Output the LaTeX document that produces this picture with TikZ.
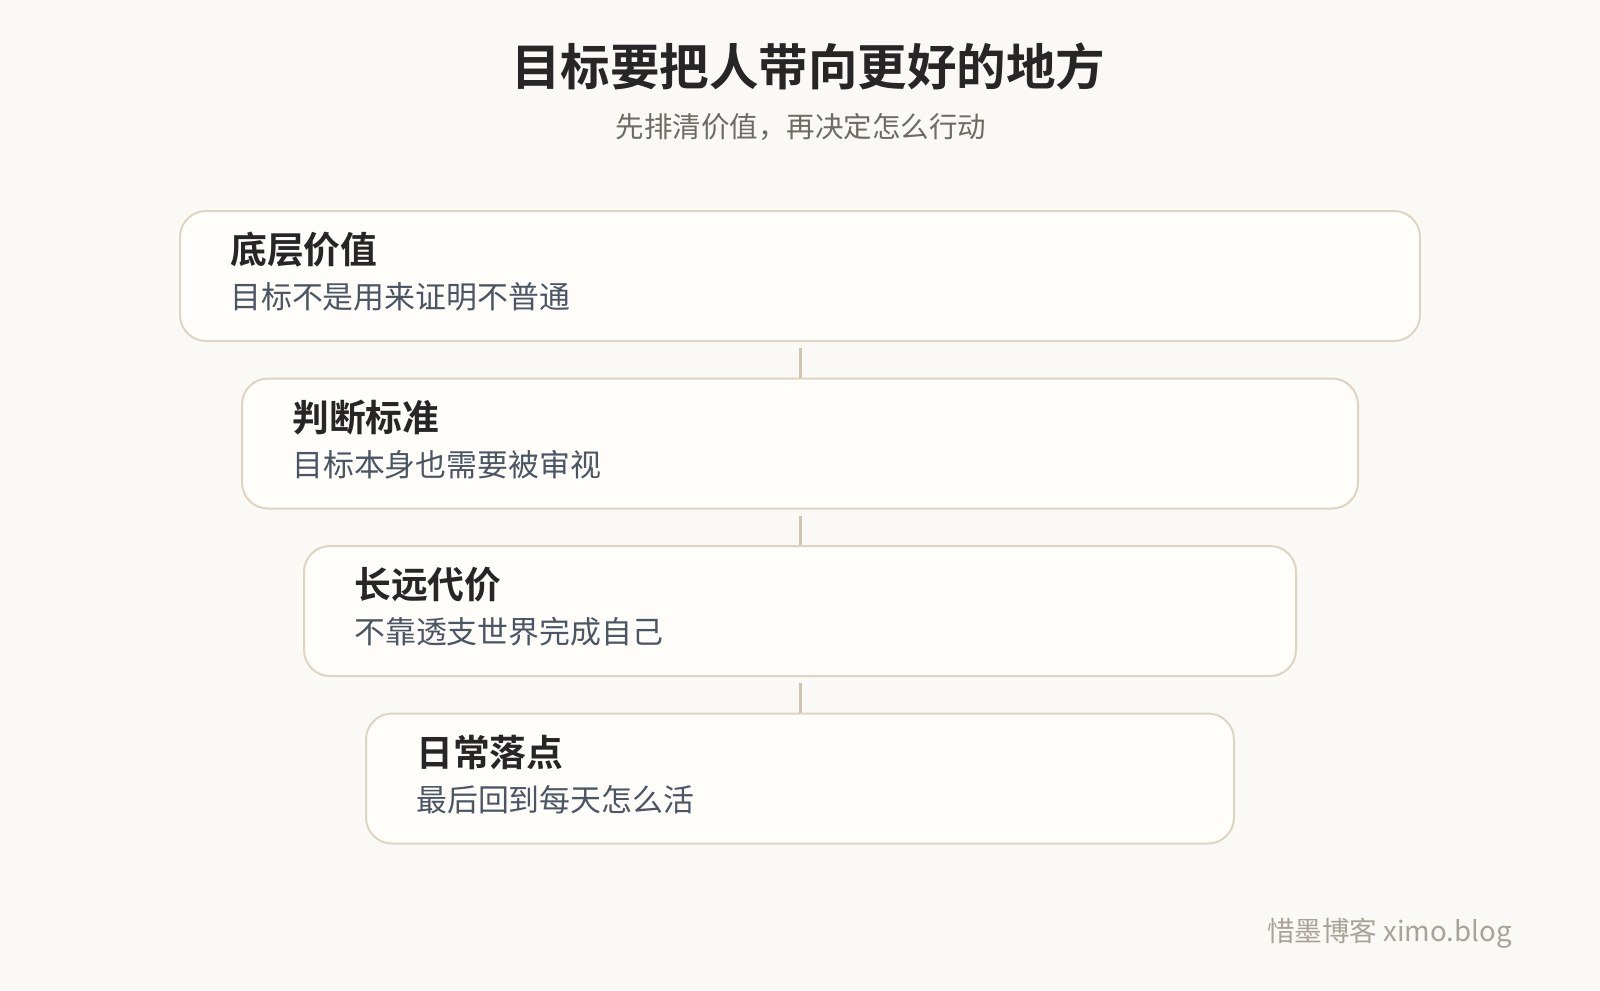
\documentclass[tikz,border=0pt]{standalone}
\usepackage{fontspec}
\setmainfont{Noto Sans CJK SC}[BoldFont={Noto Sans CJK SC Bold}]
\usepackage{xcolor}
\usepackage{tikz}
\usetikzlibrary{positioning}

\definecolor{bgpaper}{HTML}{FAF9F5}
\definecolor{cardfill}{HTML}{FEFDFA}
\definecolor{cardline}{HTML}{DED4C4}
\definecolor{linkline}{HTML}{CFC4B2}
\definecolor{headink}{HTML}{262626}
\definecolor{subink}{HTML}{6E6A64}
\definecolor{noteink}{HTML}{4B5563}
\definecolor{markink}{HTML}{A8A298}

\tikzset{
  titletext/.style={inner sep=0pt, text=headink, font=\fontsize{49.5}{58}\selectfont\bfseries},
  subtitletext/.style={inner sep=0pt, text=subink, font=\fontsize{28.5}{34}\selectfont},
  stepcard/.style={draw=cardline, fill=cardfill, line width=2pt, rounded corners=26pt,
    minimum height=130pt, inner sep=0pt},
  cardhead/.style={anchor=west, inner sep=0pt, text=headink, font=\fontsize{36.8}{44}\selectfont\bfseries},
  cardnote/.style={anchor=west, inner sep=0pt, text=noteink, font=\fontsize{30.9}{37}\selectfont},
  link/.style={draw=linkline, line width=3pt, shorten <=6pt},
  watermarktext/.style={anchor=east, inner sep=0pt, text=markink, font=\fontsize{27.6}{33}\selectfont}
}

\begin{document}
\begin{tikzpicture}[x=1pt,y=-1pt]
            \fill[bgpaper] (0,0) rectangle (1600,990);
            \node[titletext] (title) at (808,66) {目标要把人带向更好的地方};
            \node[subtitletext] (subtitle) at (801,127) {先排清价值，再决定怎么行动};
            \node[stepcard, minimum width=1240pt] (card1) at (800,276) {};
            \node[stepcard, minimum width=1116pt] (card2) at (800,443.5) {};
            \node[stepcard, minimum width=992pt] (card3) at (800,611) {};
            \node[stepcard, minimum width=868pt] (card4) at (800,778.5) {};
            \node[cardhead] (head1) at (230,250) {底层价值};
            \node[cardnote] (note1) at (230,297) {目标不是用来证明不普通};
            \node[cardhead] (head2) at (292,417.5) {判断标准};
            \node[cardnote] (note2) at (292,464.5) {目标本身也需要被审视};
            \node[cardhead] (head3) at (354,585) {长远代价};
            \node[cardnote] (note3) at (354,632) {不靠透支世界完成自己};
            \node[cardhead] (head4) at (416,752.5) {日常落点};
            \node[cardnote] (note4) at (416,799.5) {最后回到每天怎么活};
            \draw[link] (card1.south) -- (card2.north);
            \draw[link] (card2.south) -- (card3.north);
            \draw[link] (card3.south) -- (card4.north);
            \node[watermarktext] (watermark) at (1512,933) {惜墨博客 ximo.blog};
        \end{tikzpicture}
\end{document}
